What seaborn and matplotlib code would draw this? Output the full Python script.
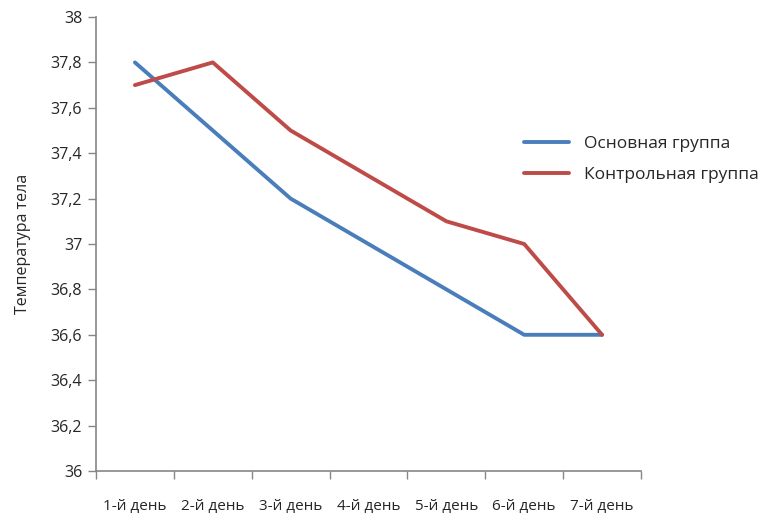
import matplotlib
matplotlib.use('Agg')
import matplotlib.pyplot as plt
import pandas as pd
import seaborn as sns
from matplotlib.ticker import FixedLocator, FuncFormatter

# Data
days = ['1-й день', '2-й день', '3-й день', '4-й день', '5-й день', '6-й день', '7-й день']
main_group = [37.8, 37.5, 37.2, 37.0, 36.8, 36.6, 36.6]
control_group = [37.7, 37.8, 37.5, 37.3, 37.1, 37.0, 36.6]
series_names = ['Основная группа', 'Контрольная группа']

df = pd.DataFrame({
    'pos': list(range(len(days))) * 2,
    'value': main_group + control_group,
    'group': [series_names[0]] * len(days) + [series_names[1]] * len(days),
})

sns.set_style('white')
plt.rcParams['font.family'] = ['Open Sans', 'DejaVu Sans']

fig = plt.figure(figsize=(7.73, 5.13), dpi=100)
ax = fig.add_axes([96 / 773, 42 / 513, 545 / 773, 454 / 513])

sns.lineplot(data=df, x='pos', y='value', hue='group', ax=ax,
             palette=['#4A7EBB', '#BE4B48'], linewidth=2.8, legend=True)

ax.set_xlim(-0.5, len(days) - 0.5)
ax.set_ylim(36, 38)

# y axis
ax.set_yticks([36 + 0.2 * i for i in range(11)])
ax.yaxis.set_major_formatter(FuncFormatter(lambda v, p: ('%g' % round(v, 1)).replace('.', ',')))
ax.tick_params(axis='y', direction='out', length=6, width=1, color='#868686',
               labelsize=11.5, pad=4, left=True)

# x axis: tick marks at category boundaries, labels at centers
ax.xaxis.set_major_locator(FixedLocator([i - 0.5 for i in range(len(days) + 1)]))
ax.xaxis.set_major_formatter(FuncFormatter(lambda v, p: ''))
ax.xaxis.set_minor_locator(FixedLocator(list(range(len(days)))))
ax.set_xticklabels(days, minor=True)
ax.tick_params(axis='x', which='major', direction='out', length=6, width=1,
               color='#868686', bottom=True)
ax.tick_params(axis='x', which='minor', length=0, labelsize=11, pad=20)

for side in ['top', 'right']:
    ax.spines[side].set_visible(False)
for side in ['left', 'bottom']:
    ax.spines[side].set_color('#868686')
    ax.spines[side].set_linewidth(1.2)

ax.set_xlabel('')
ax.set_ylabel('Температура тела', fontsize=11.5, labelpad=14)

ax.legend(loc='upper left', bbox_to_anchor=(508 / 773, 1 - 120 / 513),
          bbox_transform=fig.transFigure, frameon=False, fontsize=12.5,
          handlelength=2.6, handletextpad=0.9, labelspacing=0.85)

fig.savefig('out.png', dpi=100)
